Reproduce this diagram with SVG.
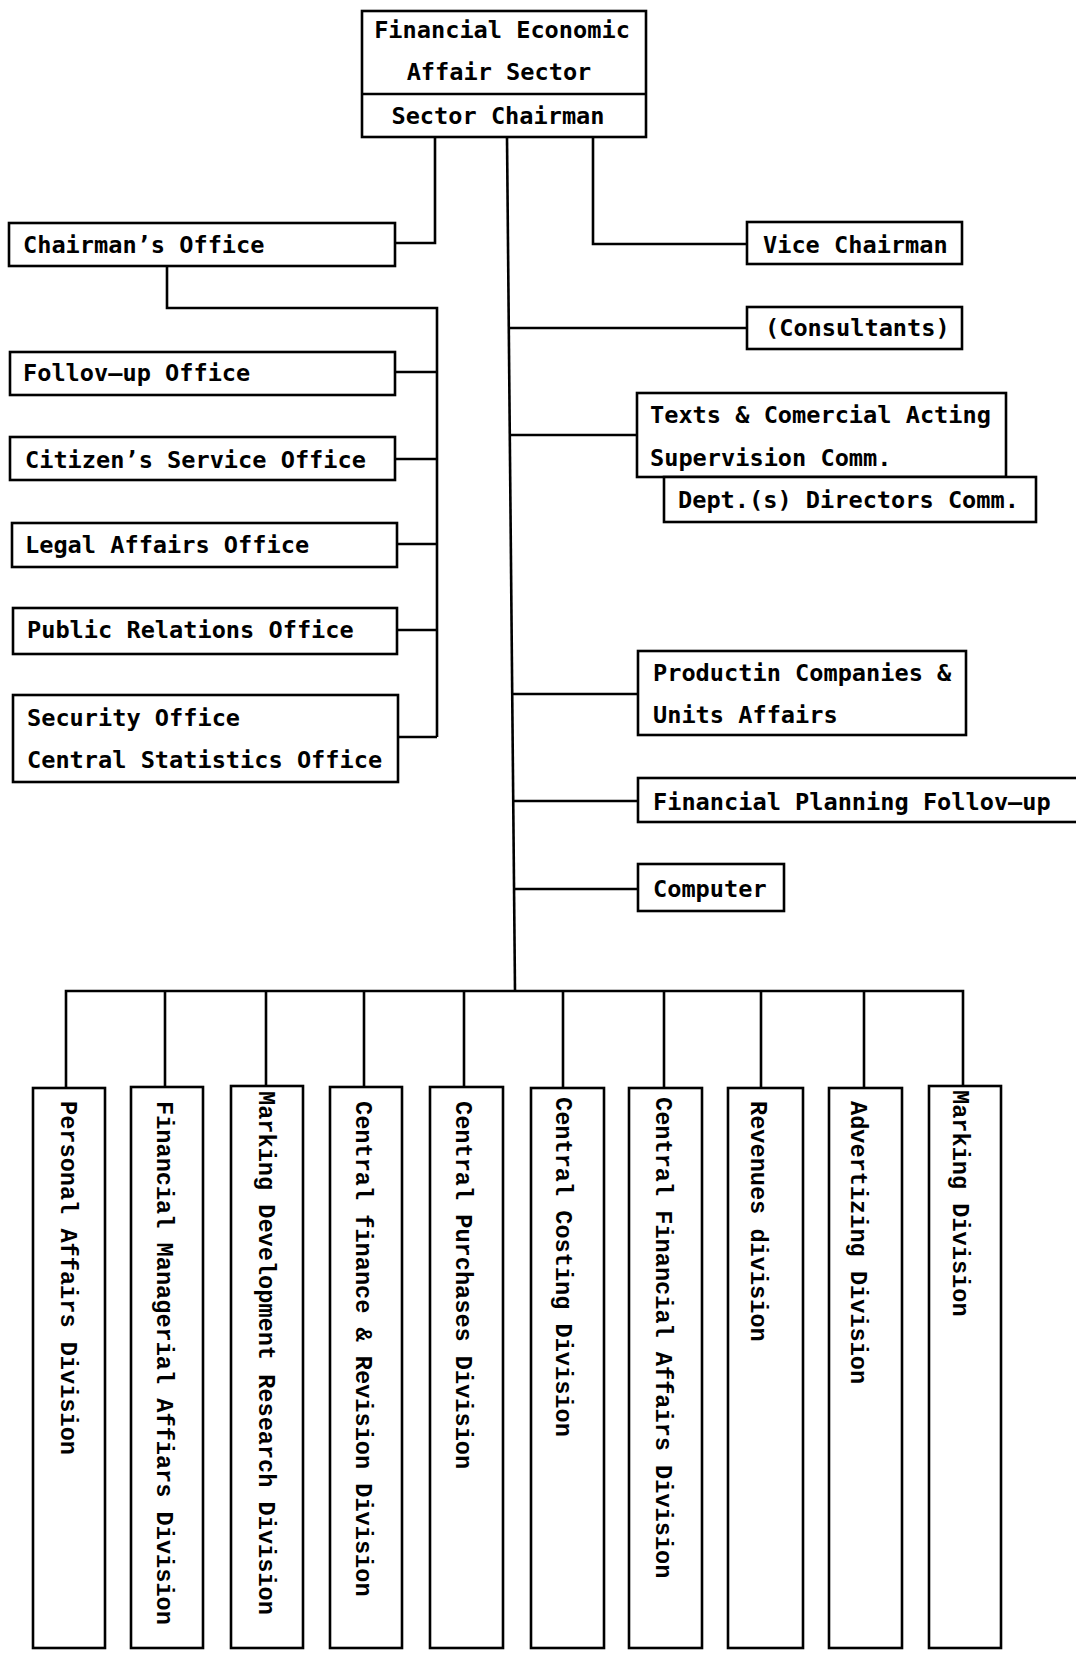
<svg xmlns="http://www.w3.org/2000/svg" width="1076" height="1653" viewBox="0 0 1076 1653">
<style>
.box{fill:#fff;stroke:#000;stroke-width:2.6}
.ln{fill:none;stroke:#000;stroke-width:2.6}
text{font-family:"DejaVu Sans Mono","Liberation Mono",monospace;font-size:23.6px;fill:#000;font-weight:bold}
.v{font-family:"Liberation Mono","DejaVu Sans Mono",monospace;font-size:23.6px;font-weight:bold}
</style>
<rect width="1076" height="1653" fill="#fff"/>
<g id="connectors" class="ln">
<path d="M435,137V243H395"/>
<path d="M593,137V244H747"/>
<path d="M507,137L515,991"/>
<path d="M167,266V308H437V737"/>
<path d="M437,372H395M437,459H395M437,544H397M437,630H397M437,737H398"/>
<path d="M509,328H747M510,435H637M512,694H638M513,801H638M514,889H638"/>
<path d="M66,1087V991H963V1087"/>
<path d="M165,991V1087M266,991V1087M364,991V1087M464,991V1087M563,991V1087M664,991V1087M761,991V1087M864,991V1087"/>
</g>
<g id="sector">
<rect class="box" x="362" y="11" width="284" height="126"/>
<line class="ln" x1="362" y1="94" x2="646" y2="94"/>
<text x="502" y="38" text-anchor="middle">Financial Economic</text>
<text x="499" y="80" text-anchor="middle">Affair Sector</text>
<text x="498" y="124" text-anchor="middle">Sector Chairman</text>
</g>
<g id="chairmans-office"><rect class="box" x="9" y="223" width="386" height="43"/><text x="23" y="253">Chairman’s Office</text></g>
<g id="followup-office"><rect class="box" x="10" y="352" width="385" height="43"/><text x="23" y="381">Follov—up Office</text></g>
<g id="citizens-office"><rect class="box" x="10" y="437" width="385" height="43"/><text x="25" y="468">Citizen’s Service Office</text></g>
<g id="legal-office"><rect class="box" x="12" y="523" width="385" height="44"/><text x="25" y="553">Legal Affairs Office</text></g>
<g id="pr-office"><rect class="box" x="13" y="608" width="384" height="46"/><text x="27" y="638">Public Relations Office</text></g>
<g id="security-office"><rect class="box" x="13" y="695" width="385" height="87"/><text x="27" y="726">Security Office</text><text x="27" y="768">Central Statistics Office</text></g>
<g id="vice-chairman"><rect class="box" x="747" y="222" width="215" height="42"/><text x="763" y="253">Vice Chairman</text></g>
<g id="consultants"><rect class="box" x="747" y="307" width="215" height="42"/><text x="765" y="336">(Consultants)</text></g>
<g id="texts-comm"><rect class="box" x="637" y="393" width="369" height="84"/><text x="650" y="423">Texts &amp; Comercial Acting</text><text x="650" y="466">Supervision Comm.</text></g>
<g id="dept-directors"><rect class="box" x="664" y="477" width="372" height="45"/><text x="678" y="508">Dept.(s) Directors Comm.</text></g>
<g id="productin"><rect class="box" x="638" y="651" width="328" height="84"/><text x="653" y="681">Productin Companies &amp;</text><text x="653" y="723">Units Affairs</text></g>
<g id="financial-planning"><rect class="box" x="638" y="778" width="460" height="44"/><text x="653" y="810">Financial Planning Follov—up</text></g>
<g id="computer"><rect class="box" x="638" y="864" width="146" height="47"/><text x="653" y="897">Computer</text></g>
<g id="div1"><rect class="box" x="33" y="1088" width="72" height="560"/><text class="v" transform="translate(61,1101) rotate(90)">Personal Affairs Division</text></g>
<g id="div2"><rect class="box" x="131" y="1087" width="72" height="561"/><text class="v" transform="translate(157,1101) rotate(90)">Financial Managerial Affiars Division</text></g>
<g id="div3"><rect class="box" x="231" y="1086" width="72" height="562"/><text class="v" transform="translate(259,1091) rotate(90)">Marking Development Research Division</text></g>
<g id="div4"><rect class="box" x="330" y="1087" width="72" height="561"/><text class="v" transform="translate(356,1101) rotate(90)">Central finance &amp; Revision Division</text></g>
<g id="div5"><rect class="box" x="430" y="1087" width="73" height="561"/><text class="v" transform="translate(456,1101) rotate(90)">Central Purchases Division</text></g>
<g id="div6"><rect class="box" x="531" y="1088" width="73" height="560"/><text class="v" transform="translate(556,1097) rotate(90)">Central Costing Division</text></g>
<g id="div7"><rect class="box" x="629" y="1088" width="73" height="560"/><text class="v" transform="translate(656,1097) rotate(90)">Central Financial Affairs Division</text></g>
<g id="div8"><rect class="box" x="728" y="1088" width="75" height="560"/><text class="v" transform="translate(751,1101) rotate(90)">Revenues division</text></g>
<g id="div9"><rect class="box" x="829" y="1088" width="73" height="560"/><text class="v" transform="translate(851,1101) rotate(90)">Advertizing Division</text></g>
<g id="div10"><rect class="box" x="929" y="1086" width="72" height="562"/><text class="v" transform="translate(953,1090) rotate(90)">Marking Division</text></g>
</svg>
